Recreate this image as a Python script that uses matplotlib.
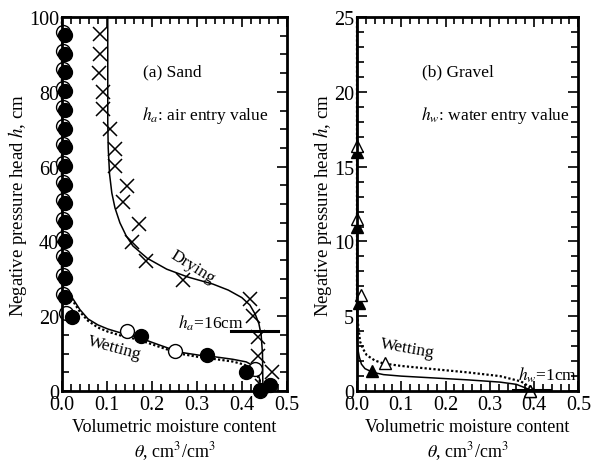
import numpy as np
import matplotlib
matplotlib.use("Agg")
import matplotlib.pyplot as plt
from matplotlib.ticker import MultipleLocator

plt.rcParams['font.family'] = ['Liberation Serif', 'DejaVu Serif']
plt.rcParams['mathtext.fontset'] = 'stix'

# ---------------------------------------------------------------- (a) Sand
sand_col_h = [96, 91, 86, 81, 76, 71, 66, 61, 56, 51, 46, 41, 36, 31, 26]

sand_open_theta = [0.003] * 15 + [0.010, 0.144, 0.251, 0.430, 0.440]
sand_open_h = sand_col_h + [21.0, 16.0, 10.7, 6.0, 0.0]

sand_fill_theta = [0.006] * 15 + [0.022, 0.177, 0.322, 0.410, 0.440, 0.462]
sand_fill_h = [h - 0.8 for h in sand_col_h] + [19.8, 14.7, 9.6, 5.0, 0.3, 1.5]

sand_dry_theta = [0.084, 0.084, 0.083, 0.092, 0.092, 0.107, 0.118, 0.118, 0.144, 0.136,
                  0.171, 0.155, 0.188, 0.270, 0.418, 0.425, 0.436, 0.436, 0.467, 0.444]
sand_dry_h = [95.5, 90, 85, 80, 75.4, 70, 64.7, 60.2, 54.9, 50.5,
              44.6, 39.8, 34.8, 29.7, 24.6, 20, 14.4, 9.4, 5.0, 1.3]

sand_dry_line_theta = [0.102, 0.102, 0.103, 0.106, 0.111, 0.118, 0.129, 0.143, 0.158, 0.190, 0.233,
                       0.280, 0.336, 0.370, 0.400, 0.418, 0.430, 0.438, 0.443, 0.446, 0.447]
sand_dry_line_h = [100, 72, 65, 58, 53, 49, 45, 41.5, 38.8, 35.5, 32.6,
                   30.5, 28.6, 27.0, 25.0, 23.0, 20.5, 18.0, 15.0, 10.0, 0.0]

sand_wet_line_theta = [0.0, 0.0, 0.005, 0.012, 0.025, 0.040, 0.058, 0.080, 0.102, 0.135, 0.169,
                       0.215, 0.262, 0.305, 0.344, 0.380, 0.410, 0.425, 0.435, 0.440, 0.442]
sand_wet_line_h = [100, 29, 27.5, 26.2, 24.6, 21.8, 19.3, 17.7, 16.6, 15.4, 14.4,
                   12.4, 10.4, 9.6, 9.1, 8.5, 7.8, 6.8, 5.2, 3.0, 0.0]

sand_wet_dot_theta = [0.0, 0.0, 0.005, 0.012, 0.025, 0.040, 0.058, 0.080, 0.102, 0.135, 0.169,
                      0.215, 0.262, 0.305, 0.344, 0.380, 0.405, 0.420, 0.432, 0.440, 0.442]
sand_wet_dot_h = [100, 29, 27.3, 25.8, 24.0, 21.2, 18.8, 17.0, 15.9, 14.7, 13.8,
                  11.9, 10.0, 9.1, 8.5, 7.9, 7.1, 6.1, 4.8, 2.8, 0.0]

sand_ha = 16

# ---------------------------------------------------------------- (b) Gravel
grav_open_theta = [0.0, 0.0, 0.010, 0.063, 0.390]
grav_open_h = [16.4, 11.5, 6.4, 1.9, 0.0]

grav_fill_theta = [0.0, 0.0, 0.005, 0.033, 0.390]
grav_fill_h = [16.0, 11.0, 5.9, 1.35, 0.0]

grav_line_theta = [0.0, 0.0, 0.002, 0.005, 0.010, 0.018, 0.036, 0.060, 0.100, 0.172, 0.250, 0.323, 0.360, 0.390]
grav_line_h = [25, 3.5, 2.8, 2.3, 1.8, 1.5, 1.25, 1.1, 1.0, 0.88, 0.75, 0.6, 0.45, 0.1]

grav_dot_theta = [0.0, 0.0, 0.003, 0.007, 0.014, 0.022, 0.040, 0.059, 0.100, 0.172, 0.250, 0.323, 0.370, 0.400]
grav_dot_h = [25, 5.5, 4.3, 3.3, 2.8, 2.4, 2.05, 1.85, 1.68, 1.47, 1.25, 1.0, 0.65, 0.1]

grav_hw = 0.1

# ----------------------------------------------------------------
fig = plt.figure(figsize=(5.95, 4.64), dpi=100)
ax1 = fig.add_axes([0.104, 0.155, 0.378, 0.806])
ax2 = fig.add_axes([0.600, 0.155, 0.372, 0.806])

fs = 12.5


def style(ax, ymax, ymaj, ymin):
    ax.set_xlim(0, 0.5)
    ax.set_ylim(0, ymax)
    ax.xaxis.set_major_locator(MultipleLocator(0.1))
    ax.xaxis.set_minor_locator(MultipleLocator(0.02))
    ax.yaxis.set_major_locator(MultipleLocator(ymaj))
    ax.yaxis.set_minor_locator(MultipleLocator(ymin))
    ax.xaxis.set_major_formatter(plt.FuncFormatter(lambda v, p: "%.1f" % v))
    ax.tick_params(which='both', direction='in', top=True, right=True, labelsize=14.5, width=1.2)
    ax.tick_params(which='major', length=7)
    ax.tick_params(which='minor', length=5)
    ax.tick_params(axis='x', which='major', pad=3)
    ax.tick_params(axis='y', which='major', pad=2)
    for s in ax.spines.values():
        s.set_linewidth(2.0)
    ax.set_xlabel("Volumetric moisture content\n$\\theta$, cm$^3$/cm$^3$", fontsize=13, labelpad=3)
    ax.set_ylabel("Negative pressure head $h$, cm", fontsize=13.5, labelpad=0)


# (a) Sand
ax1.plot(sand_dry_line_theta, sand_dry_line_h, color='black', lw=1.1, clip_on=False)
ax1.plot(sand_wet_dot_theta, sand_wet_dot_h, color='black', lw=1.6, ls=(0, (1, 1)), clip_on=False)
ax1.plot(sand_wet_line_theta, sand_wet_line_h, color='black', lw=1.1, clip_on=False)
ax1.plot(sand_dry_theta, sand_dry_h, ls='none', marker='x', ms=10, mew=1.1, color='black', clip_on=False)
ax1.plot(sand_open_theta, sand_open_h, ls='none', marker='o', ms=10, mfc='white', mec='black', mew=1.0, clip_on=False)
ax1.plot(sand_fill_theta, sand_fill_h, ls='none', marker='o', ms=10, mfc='black', mec='black', clip_on=False)
ax1.plot([0.377, 0.48], [sand_ha, sand_ha], color='black', lw=2.2)
style(ax1, 100, 20, 5)
ax1.text(0.18, 85.6, "(a) Sand", fontsize=fs, va='center')
ax1.text(0.178, 74, "$h_a$: air entry value", fontsize=fs, va='center')
ax1.text(0.29, 33.4, "Drying", fontsize=fs, rotation=-32, ha='center', va='center')
ax1.text(0.118, 11.8, "Wetting", fontsize=fs, rotation=-15, ha='center', va='center')
ax1.text(0.258, 18.4, "$h_a$=16cm", fontsize=fs, va='center')

# (b) Gravel
ax2.plot(grav_dot_theta, grav_dot_h, color='black', lw=1.6, ls=(0, (1, 1)), clip_on=False)
ax2.plot(grav_line_theta, grav_line_h, color='black', lw=1.1, clip_on=False)
ax2.plot(grav_fill_theta, grav_fill_h, ls='none', marker='^', ms=9, mfc='black', mec='black', clip_on=False)
ax2.plot(grav_open_theta, grav_open_h, ls='none', marker='^', ms=9, mfc='white', mec='black', mew=1.0, clip_on=False)
ax2.plot([0.352, 0.436], [grav_hw, grav_hw], color='black', lw=2.2, clip_on=False)
style(ax2, 25, 5, 1)
ax2.text(0.147, 21.4, "(b) Gravel", fontsize=fs, va='center')
ax2.text(0.145, 18.5, "$h_w$: water entry value", fontsize=fs, va='center')
ax2.text(0.113, 2.9, "Wetting", fontsize=fs, rotation=-10, ha='center', va='center')
ax2.text(0.497, 1.1, "$h_w$=1cm", fontsize=fs, ha='right', va='center')

fig.savefig("out.png", dpi=100)
